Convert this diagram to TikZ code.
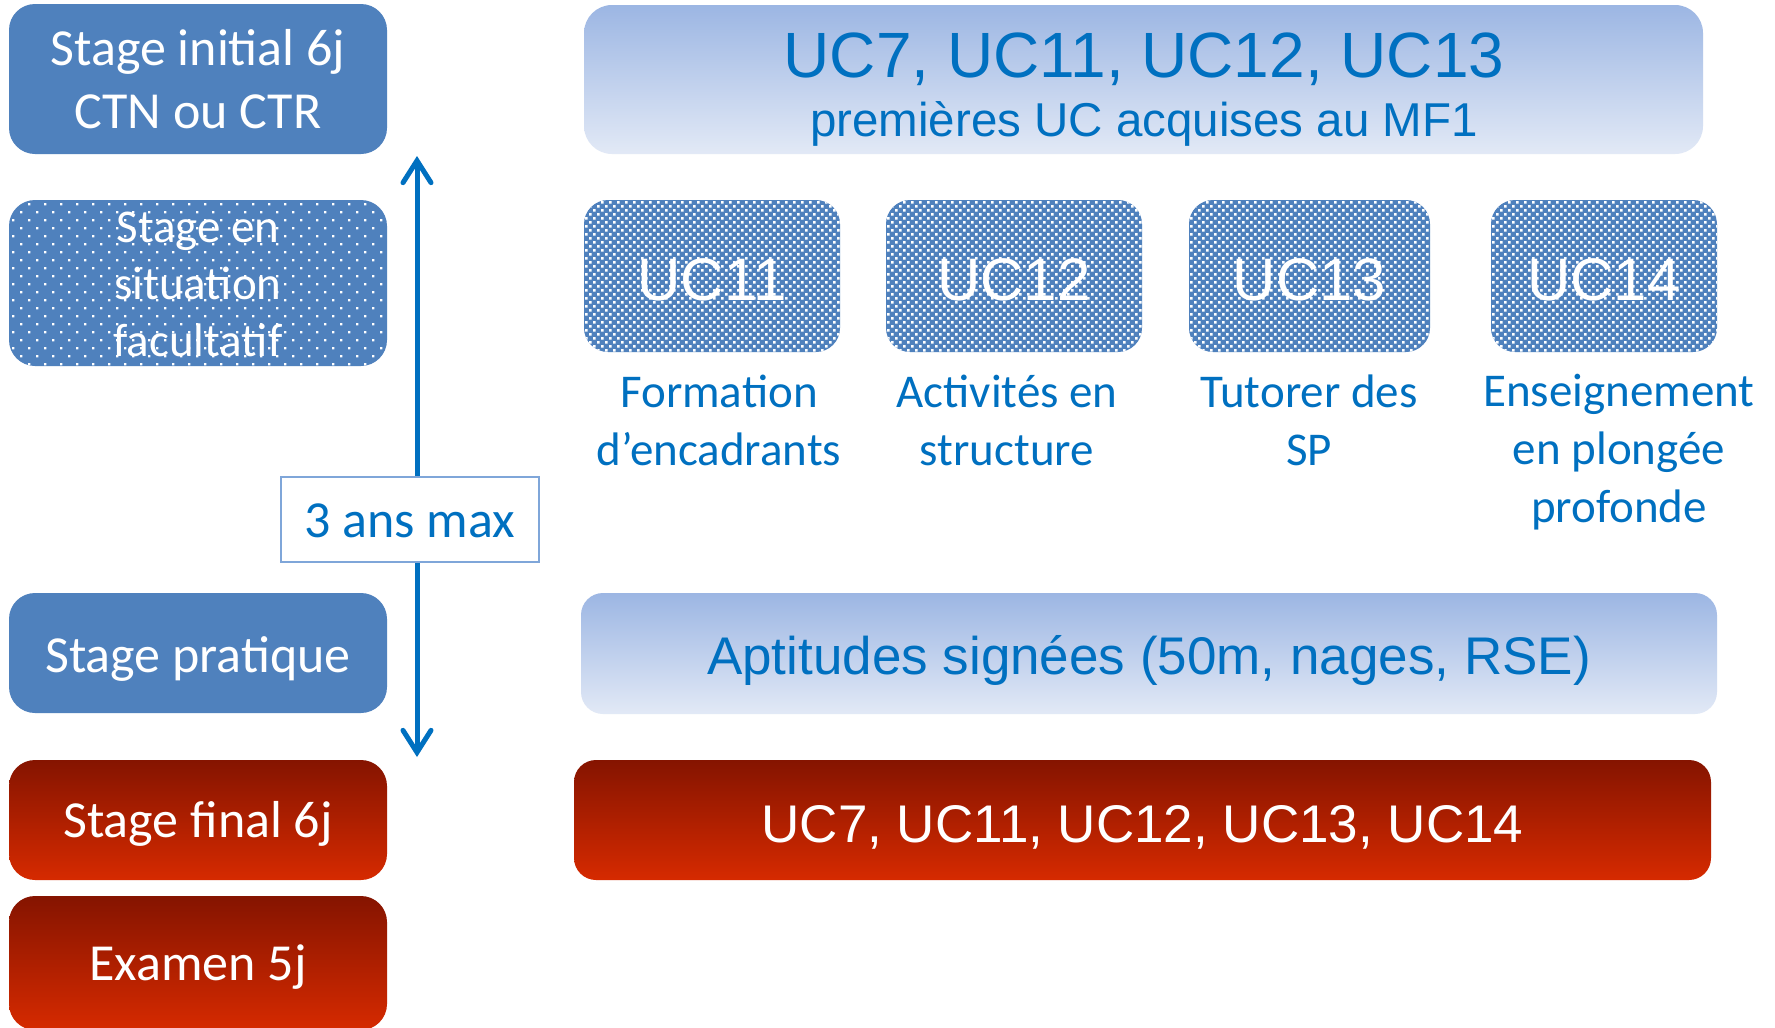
\documentclass[tikz,border=0pt]{standalone}
\usepackage{fontspec}
\setmainfont{Carlito}
\newfontfamily\arialf{Liberation Sans}
\usetikzlibrary{arrows.meta}
\definecolor{mfblue}{HTML}{4F81BD}
\definecolor{txtblue}{HTML}{0070C0}
\definecolor{gradtop}{HTML}{9CB6E3}
\definecolor{gradbot}{HTML}{E2E9F6}
\definecolor{redtop}{HTML}{851400}
\definecolor{redbot}{HTML}{D62A00}
\definecolor{lblborder}{HTML}{7FA6D9}
\newcommand\mfdots[7]{\fill[white] \foreach \r in {0,...,#4} {\foreach \c in {0,...,#3} {({#1+\c*#5+mod(\r,2)*#5/2},{#2+\r*#6}) rectangle ++(#7,#7)}};}
% text block whose first baseline sits #1 above the node centre
\newcommand\mftext[2]{\raisebox{#1}[0pt][0pt]{\begin{tabular}[t]{@{}c@{}}#2\end{tabular}}}
\tikzset{
  every node/.style={inner sep=0pt, outer sep=0pt},
  bluebox/.style={rounded corners=26pt, fill=mfblue, text=white},
  redbox/.style={rounded corners=26pt, top color=redtop, bottom color=redbot, text=white},
  gradbox/.style={rounded corners=28pt, top color=gradtop, bottom color=gradbot, text=txtblue},
  ucbox/.style={rounded corners=24pt, fill=mfblue, text=white, font=\arialf\fontsize{60}{72}\selectfont},
  uclabel/.style={text=txtblue, font=\fontsize{47}{58}\selectfont},
  leftfont/.style={font=\fontsize{52}{63.5}\selectfont},
  arrowline/.style={draw=txtblue, line width=5pt, line cap=round,
    {Straight Barb[length=22pt, width=28pt, line cap=round]}-{Straight Barb[length=22pt, width=28pt, line cap=round]}},
}
\begin{document}
\begin{tikzpicture}[x=1pt, y=-1pt]
\useasboundingbox (0,0) rectangle (1775,1028);
\fill[white] (0,0) rectangle (1775,1028);

% left column
\node[bluebox, leftfont, minimum width=378pt, minimum height=150pt] (si) at (198,79) {\mftext{14pt}{Stage initial 6j\\CTN ou CTR}};
\node[bluebox, font=\fontsize{47}{57}\selectfont, minimum width=378pt, minimum height=166pt] (ss) at (198,283) {\mftext{41pt}{Stage en\\situation\\facultatif}};
\begin{scope}
\clip[rounded corners=26pt] (ss.north west) rectangle (ss.south east);
\mfdots{12}{203}{24}{21}{16}{8}{2.4}
\end{scope}
\node[bluebox, leftfont, minimum width=378pt, minimum height=120pt] (sp) at (198,653) {\mftext{-19pt}{Stage pratique}};
\node[redbox, leftfont, minimum width=378pt, minimum height=120pt] (sf) at (198,820) {\mftext{-17pt}{Stage final 6j}};
\node[redbox, leftfont, minimum width=378pt, minimum height=134pt] (ex) at (198,963) {\mftext{-17pt}{Examen 5j}};

% arrow and duration label
\coordinate (atop) at (417,156);
\coordinate (abot) at (417,757);
\draw[arrowline] (atop) -- (abot);
\node[draw=lblborder, line width=1.5pt, fill=white, text=txtblue, leftfont, minimum width=258pt, minimum height=85pt] (lbl) at (410,519.5) {\mftext{-17.5pt}{3 ans max}};

% top gradient box
\node[gradbox, minimum width=1119pt, minimum height=149pt] (tb) at (1143.5,79.5) {};
\node[anchor=base, text=txtblue, font=\arialf\fontsize{64}{72}\selectfont] (tb1) at (1144,77) {UC7, UC11, UC12, UC13};
\node[anchor=base, text=txtblue, font=\arialf\fontsize{47.5}{57}\selectfont] (tb2) at (1144,136) {premières UC acquises au MF1};

% UC boxes
\node[ucbox, minimum width=256pt, minimum height=152pt] (uc11) at (712,276) {\mftext{-24pt}{UC11}};
\node[ucbox, minimum width=256pt, minimum height=152pt] (uc12) at (1014,276) {\mftext{-24pt}{UC12}};
\node[ucbox, minimum width=241pt, minimum height=152pt] (uc13) at (1309.5,276) {\mftext{-24pt}{UC13}};
\node[ucbox, minimum width=226pt, minimum height=152pt] (uc14) at (1604,276) {\mftext{-24pt}{UC14}};
\begin{scope}
\clip[rounded corners=24pt] (uc11.north west) rectangle (uc11.south east);
\mfdots{585}{201}{32}{38}{8}{4}{2.6}
\end{scope}
\begin{scope}
\clip[rounded corners=24pt] (uc12.north west) rectangle (uc12.south east);
\mfdots{887}{201}{32}{38}{8}{4}{2.6}
\end{scope}
\begin{scope}
\clip[rounded corners=24pt] (uc13.north west) rectangle (uc13.south east);
\mfdots{1190}{201}{30}{38}{8}{4}{2.6}
\end{scope}
\begin{scope}
\clip[rounded corners=24pt] (uc14.north west) rectangle (uc14.south east);
\mfdots{1492}{201}{29}{38}{8}{4}{2.6}
\end{scope}

% UC labels (node placed at first baseline)
\node[uclabel] (lab11) at (719,407) {\mftext{0pt}{Formation\\d’encadrants}};
\node[uclabel] (lab12) at (1007,407) {\mftext{0pt}{Activités en\\structure}};
\node[uclabel] (lab13) at (1309,407) {\mftext{0pt}{Tutorer des\\SP}};
\node[uclabel] (lab14) at (1619,406) {\mftext{0pt}{Enseignement\\en plongée\\profonde}};

% aptitudes and final
\node[gradbox, rounded corners=22pt, font=\arialf\fontsize{53}{64}\selectfont, minimum width=1136pt, minimum height=121pt] (ap) at (1149,653.5) {\mftext{-21pt}{Aptitudes signées (50m, nages, RSE)}};
\node[redbox, rounded corners=22pt, font=\arialf\fontsize{53}{64}\selectfont, minimum width=1137pt, minimum height=120pt] (rb) at (1142.5,820) {\mftext{-22pt}{UC7, UC11, UC12, UC13, UC14}};
\end{tikzpicture}
\end{document}
